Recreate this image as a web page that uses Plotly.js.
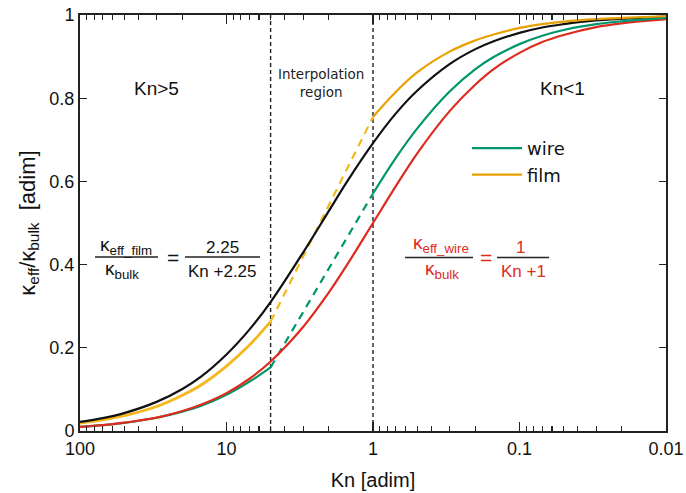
<!DOCTYPE html>
<html>
<head>
<meta charset="utf-8">
<script src="https://cdn.plot.ly/plotly-3.0.1.min.js"></script>
<style>html,body{margin:0;padding:0;background:#fff;}#chart{width:686px;height:493px;}</style>
</head>
<body>
<div id="chart"></div>
<script>
// ---- data ----
const knAll = [100, 70, 50, 30, 20, 15, 10, 7, 5, 3, 2, 1.5, 1, 0.7, 0.5, 0.3, 0.2, 0.15, 0.1, 0.07, 0.05, 0.03, 0.02, 0.01];
const blackVals = [0.022, 0.031, 0.043, 0.070, 0.101, 0.130, 0.184, 0.243, 0.310, 0.429, 0.529, 0.600, 0.692, 0.763, 0.818, 0.882, 0.918, 0.937, 0.957, 0.970, 0.978, 0.987, 0.991, 0.996];
const redVals = [0.010, 0.014, 0.020, 0.032, 0.048, 0.063, 0.091, 0.125, 0.167, 0.250, 0.333, 0.400, 0.500, 0.588, 0.667, 0.769, 0.833, 0.870, 0.909, 0.935, 0.952, 0.971, 0.980, 0.990];

const knHigh = [100, 70, 50, 30, 20, 15, 10, 7, 5];
const filmHigh = [0.0187, 0.0265, 0.0367, 0.059, 0.086, 0.110, 0.156, 0.206, 0.263];
const wireHigh = [0.0099, 0.0140, 0.0194, 0.0318, 0.0465, 0.060, 0.087, 0.118, 0.153];

const knLow = [1, 0.7, 0.5, 0.3, 0.2, 0.15, 0.1, 0.07, 0.05, 0.03, 0.02, 0.01];
const filmLow = [0.755, 0.815, 0.862, 0.912, 0.939, 0.953, 0.969, 0.978, 0.984, 0.990, 0.993, 0.997];
const wireLow = [0.571, 0.656, 0.727, 0.816, 0.870, 0.899, 0.930, 0.950, 0.964, 0.978, 0.985, 0.993];

const knInterp = [5, 1];
const filmInterp = [0.263, 0.755];
const wireInterp = [0.153, 0.571];

const boundaryKn = [5, 1];
const boundaryY = [0, 1];

const xTickVals = [100, 10, 1, 0.1, 0.01];
const xTickText = ['100', '10', '1', '0.1', '0.01'];
const yTickVals = [0, 0.2, 0.4, 0.6, 0.8, 1];
const yTickText = ['0', '0.2', '0.4', '0.6', '0.8', '1'];
const seriesNames = ['wire', 'film'];

// ---- styling ----
const GREEN = '#00966c', ORANGE = '#e8a000', YELLOW = '#f4b71c', RED = '#df2a1e', BLACK = '#111111';
const minorVals = [];
[0.01, 0.1, 1, 10].forEach(d => { for (let m = 2; m <= 9; m++) minorVals.push(+(d * m).toPrecision(3)); });

const traces = [];
boundaryKn.forEach(k => traces.push({
  x: [k, k], y: boundaryY, mode: 'lines', showlegend: false, hoverinfo: 'skip',
  line: {color: '#222', width: 1.4, dash: '4px,3px'}
}));
traces.push({x: knHigh, y: wireHigh, mode: 'lines', showlegend: false, line: {color: GREEN, width: 2.2, shape: 'spline'}});
traces.push({x: knHigh, y: filmHigh, mode: 'lines', showlegend: false, line: {color: YELLOW, width: 2.8, shape: 'spline'}});
traces.push({x: knInterp, y: wireInterp, mode: 'lines', showlegend: false, line: {color: GREEN, width: 2.2, dash: '8px,6px'}});
traces.push({x: knInterp, y: filmInterp, mode: 'lines', showlegend: false, line: {color: YELLOW, width: 2.2, dash: '8px,6px'}});
traces.push({x: knAll, y: redVals, mode: 'lines', showlegend: false, line: {color: RED, width: 2.2, shape: 'spline'}});
traces.push({x: knAll, y: blackVals, mode: 'lines', showlegend: false, line: {color: BLACK, width: 2.2, shape: 'spline'}});
traces.push({x: knLow, y: wireLow, mode: 'lines', name: seriesNames[0], line: {color: GREEN, width: 2.2, shape: 'spline'}});
traces.push({x: knLow, y: filmLow, mode: 'lines', name: seriesNames[1], line: {color: ORANGE, width: 2.2, shape: 'spline'}});

const px = p => (p - 80) / 586;
const py = p => (431 - p) / 416;
const F = 'Liberation Sans, Arial, sans-serif';
const D = 'DejaVu Sans, sans-serif';

function ann(text, x, y, size, color, family) {
  return {text: text, x: px(x), y: py(y), xref: 'paper', yref: 'paper', showarrow: false,
    xanchor: 'center', yanchor: 'middle', font: {family: family || F, size: size, color: color || '#111'}};
}
function bar(x0, x1, y, color) {
  return {type: 'line', xref: 'paper', yref: 'paper', x0: px(x0), x1: px(x1), y0: py(y), y1: py(y),
    line: {color: color || '#222', width: 1.5}};
}

const annotations = [
  ann('Kn>5', 156, 88, 19),
  ann('Interpolation<br>region', 321, 83, 13.5, '#222', D),
  ann('Kn<1', 562, 88, 19),
  ann('κ<sub>eff_film</sub>', 126, 246, 19),
  ann('κ<sub>bulk</sub>', 122, 270, 19),
  ann('=', 173, 257, 21),
  ann('2.25', 222, 247, 17),
  ann('Kn +2.25', 222, 271, 17),
  ann('κ<sub>eff_wire</sub>', 441, 244, 19, RED),
  ann('κ<sub>bulk</sub>', 442, 270, 19, RED),
  ann('=', 486, 257, 21, RED),
  ann('1', 520, 247, 17, RED),
  ann('Kn +1', 523, 271, 17, RED)
];
const shapes = [
  bar(95, 158, 257), bar(185, 260, 257),
  bar(405, 473, 257.5), bar(497, 549, 257.5)
];

const layout = {
  width: 686, height: 493,
  margin: {l: 80, r: 20, t: 15, b: 62},
  paper_bgcolor: '#fff', plot_bgcolor: '#fff',
  font: {family: F, size: 16, color: '#111'},
  xaxis: {
    type: 'log', range: [2, -2], showgrid: false, zeroline: false,
    showline: true, mirror: 'ticks', linecolor: '#222', linewidth: 2,
    ticks: 'inside', ticklen: 9, tickwidth: 1.3, tickcolor: '#222',
    tickmode: 'array', tickvals: xTickVals, ticktext: xTickText,
    tickfont: {family: F, size: 18, color: '#111'},
    minor: {tickmode: 'array', tickvals: minorVals, ticks: 'inside', ticklen: 5, tickwidth: 1.1, tickcolor: '#222', showgrid: false},
    title: {text: 'Kn [adim]', font: {family: F, size: 20, color: '#111'}, standoff: 15}
  },
  yaxis: {
    range: [0, 1], showgrid: false, zeroline: false,
    showline: true, mirror: 'ticks', linecolor: '#222', linewidth: 2,
    ticks: 'inside', ticklen: 7, tickwidth: 1.3, tickcolor: '#222',
    tickmode: 'array', tickvals: yTickVals, ticktext: yTickText,
    tickfont: {family: F, size: 18, color: '#111'},
    title: {text: 'κ<sub>eff</sub>/κ<sub>bulk</sub>  [adim]', font: {family: F, size: 22, color: '#111'}, standoff: 8}
  },
  showlegend: true,
  legend: {x: px(467), y: py(130), xanchor: 'left', yanchor: 'top', bgcolor: 'rgba(0,0,0,0)',
    font: {family: D, size: 18, color: '#111'}, itemwidth: 50, tracegroupgap: 0},
  annotations: annotations,
  shapes: shapes
};

Plotly.newPlot('chart', traces, layout, {displayModeBar: false, staticPlot: true});
</script>
</body>
</html>
